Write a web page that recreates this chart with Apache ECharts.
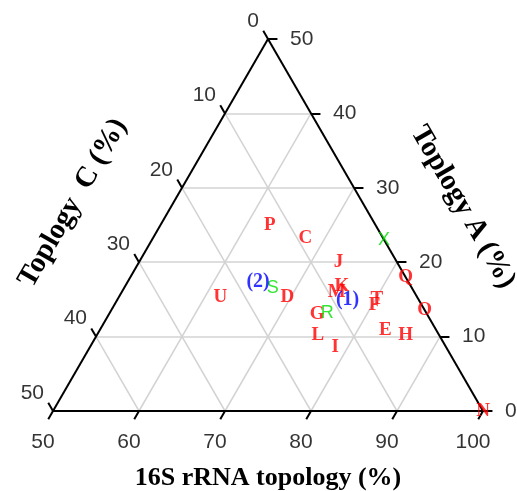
<!DOCTYPE html>
<html>
<head>
<meta charset="utf-8">
<script src="https://cdn.jsdelivr.net/npm/echarts@6/dist/echarts.min.js"></script>
<style>
  html, body { margin: 0; padding: 0; background: #fff; }
  #chart { width: 517px; height: 491px; }
</style>
</head>
<body>
<div id="chart"></div>
<script>
// ternary data: 16S rRNA topology, Toplogy A, Toplogy C (%)
const redNames = ["P", "C", "J", "U", "D", "K", "M", "G", "L", "I", "Q", "T", "F", "O", "E", "H", "N"];
const redS16 =   [62.7, 67.7, 73.2, 61.8, 69.6, 75.2, 75.0, 74.2, 75.7, 78.5, 82.0, 80.1, 80.3, 86.4, 83.2, 85.9, 100];
const redTopA =  [25.0, 23.3, 20.0, 15.3, 15.3, 16.8, 16.0, 13.0, 10.2, 8.6, 18.0, 15.1, 14.2, 13.6, 10.9, 10.2, 0];

const greenNames = ["S", "R", "X"];
const greenS16 =   [67.3, 75.3, 77.0];
const greenTopA =  [16.5, 13.2, 23.0];

const blueNames = ["(2)", "(1)"];
const blueS16 =   [65.2, 76.8];
const blueTopA =  [17.3, 14.9];

const s16Ticks = [50, 60, 70, 80, 90, 100];
const topATicks = [0, 10, 20, 30, 40, 50];
const topCTicks = [0, 10, 20, 30, 40, 50];

// ternary -> cartesian (x = S + A/2, y = A)
const toXY = (s, a) => [s + a / 2, a];

const chart = echarts.init(document.getElementById("chart"));

// grid lines every 10
const gridLines = [];
[10, 20, 30, 40].forEach((v) => {
  gridLines.push({ coords: [toXY(50, v), toXY(100 - v, v)] });         // const A
  gridLines.push({ coords: [toXY(50 + v, 0), toXY(50 + v, 50 - v)] }); // const S
  gridLines.push({ coords: [toXY(100 - v, 0), toXY(50, 50 - v)] });    // const C
});

const frame = [
  { coords: [toXY(50, 0), toXY(100, 0)] },
  { coords: [toXY(100, 0), toXY(50, 50)] },
  { coords: [toXY(50, 50), toXY(50, 0)] },
];

const tk = 1.1;
const ticks = [];
s16Ticks.forEach((s) => ticks.push({ coords: [toXY(s, 0), toXY(s, -tk)] }));
topATicks.forEach((a) => ticks.push({ coords: [toXY(100 - a, a), toXY(100 - a + tk, a)] }));
topCTicks.forEach((c) => ticks.push({ coords: [toXY(50, 50 - c), toXY(50 - tk, 50 - c + tk)] }));

const tickFont = { fontFamily: "Liberation Sans", fontSize: 21, color: "#000" };

const labelSeries = (data, offset, align) => ({
  type: "scatter",
  symbolSize: 0,
  silent: true,
  data: data,
  label: {
    show: true,
    position: "inside",
    offset: offset,
    align: align,
    formatter: (p) => p.value[2],
    ...tickFont,
  },
});

const pointSeries = (names, s16, topA, color, font, size, weight) => ({
  type: "scatter",
  symbolSize: 0,
  data: names.map((n, i) => [...toXY(s16[i], topA[i]), n]),
  label: {
    show: true,
    position: "inside",
    formatter: (p) => p.value[2],
    color: color,
    fontFamily: font,
    fontSize: size,
    fontWeight: weight,
  },
});

const options = {
  animation: false,
  grid: { left: 53, top: 39, width: 430, height: 372 },
  xAxis: { type: "value", min: 50, max: 100, show: false },
  yAxis: { type: "value", min: 0, max: 50, show: false },
  series: [
    {
      type: "lines",
      coordinateSystem: "cartesian2d",
      clip: false,
      silent: true,
      lineStyle: { color: "#d3d3d3", width: 1.5, opacity: 1 },
      data: gridLines,
    },
    {
      type: "lines",
      coordinateSystem: "cartesian2d",
      clip: false,
      silent: true,
      lineStyle: { color: "#000", width: 2, opacity: 1 },
      data: frame.concat(ticks),
    },
    labelSeries(s16Ticks.map((s) => [...toXY(s, 0), String(s)]), [-10, 31], "center"),
    labelSeries(topATicks.map((a) => [...toXY(100 - a, a), String(a)]), [22, 0], "left"),
    labelSeries(topCTicks.map((c) => [...toXY(50, 50 - c), String(c)]), [-9, -18], "right"),
    pointSeries(redNames, redS16, redTopA, "#ff0000", "Liberation Serif", 19, "bold"),
    pointSeries(greenNames, greenS16, greenTopA, "#00e000", "Liberation Sans", 18, "normal"),
    pointSeries(blueNames, blueS16, blueTopA, "#0000ff", "Liberation Serif", 20, "bold"),
  ],
  graphic: [
    {
      type: "text",
      x: 268,
      y: 478,
      style: { text: "16S rRNA topology (%)", fontFamily: "Liberation Serif", fontWeight: "bold", fontSize: 26, fill: "#000", align: "center", verticalAlign: "middle" },
    },
    {
      type: "text",
      x: 73,
      y: 203,
      rotation: Math.PI / 3,
      style: { text: "Toplogy  C (%)", fontFamily: "Liberation Serif", fontWeight: "bold", fontSize: 29, fill: "#000", align: "center", verticalAlign: "middle" },
    },
    {
      type: "text",
      x: 463,
      y: 207,
      rotation: -Math.PI / 3,
      style: { text: "Toplogy A (%)", fontFamily: "Liberation Serif", fontWeight: "bold", fontSize: 29, fill: "#000", align: "center", verticalAlign: "middle" },
    },
  ],
};

chart.setOption(options);
</script>
</body>
</html>
